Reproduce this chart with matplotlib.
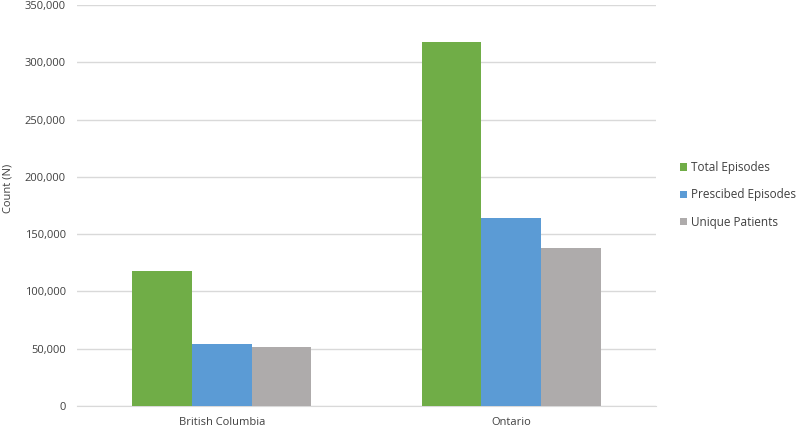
import matplotlib
matplotlib.use("Agg")
import matplotlib.pyplot as plt
import numpy as np
from matplotlib.ticker import FuncFormatter

plt.rcParams['font.family'] = ['Open Sans', 'DejaVu Sans']

categories = ["British Columbia", "Ontario"]
series_names = ["Total Episodes", "Prescibed Episodes", "Unique Patients"]
total_episodes = [118000, 317500]
prescribed_episodes = [54500, 164000]
unique_patients = [51800, 138000]
colors = ["#70AD47", "#5B9BD5", "#AEABAB"]

fig = plt.figure(figsize=(8.0, 4.28), dpi=100)
ax = fig.add_axes([77/800, 1 - 406/428, (656-77)/800, (406-5)/428])

x = np.arange(len(categories))
w = 0.206
for i, (vals, name, c) in enumerate(zip([total_episodes, prescribed_episodes, unique_patients], series_names, colors)):
    ax.bar(x + (i - 1) * w, vals, width=w, color=c, label=name, zorder=3)

ax.set_xlim(-0.5, 1.5)
ax.set_ylim(0, 350000)
ax.set_yticks(np.arange(0, 350001, 50000))
ax.yaxis.set_major_formatter(FuncFormatter(lambda v, p: f"{int(v):,}"))
ax.set_xticks(x)
ax.set_xticklabels(categories)
ax.grid(axis='y', color='#D9D9D9', linewidth=1, zorder=0)
for s in ['top', 'right', 'left']:
    ax.spines[s].set_visible(False)
ax.spines['bottom'].set_color('#D9D9D9')
ax.tick_params(axis='both', length=0, labelsize=8, colors='#404040')
ax.tick_params(axis='y', pad=8)
ax.tick_params(axis='x', pad=8)
ax.set_ylabel("Count (N)", fontsize=8, color='#404040')
ax.yaxis.set_label_coords(8/800, 1 - 188/428, transform=fig.transFigure)
ax.yaxis.label.set_va('center')

leg = ax.legend(loc='center left', bbox_to_anchor=(669/800, 1 - 195/428), bbox_transform=fig.transFigure,
                frameon=False, fontsize=8.5, handlelength=0.6, handleheight=0.6, handletextpad=0.35,
                labelspacing=1.2, labelcolor='#404040')

fig.savefig("out.png", dpi=100)
